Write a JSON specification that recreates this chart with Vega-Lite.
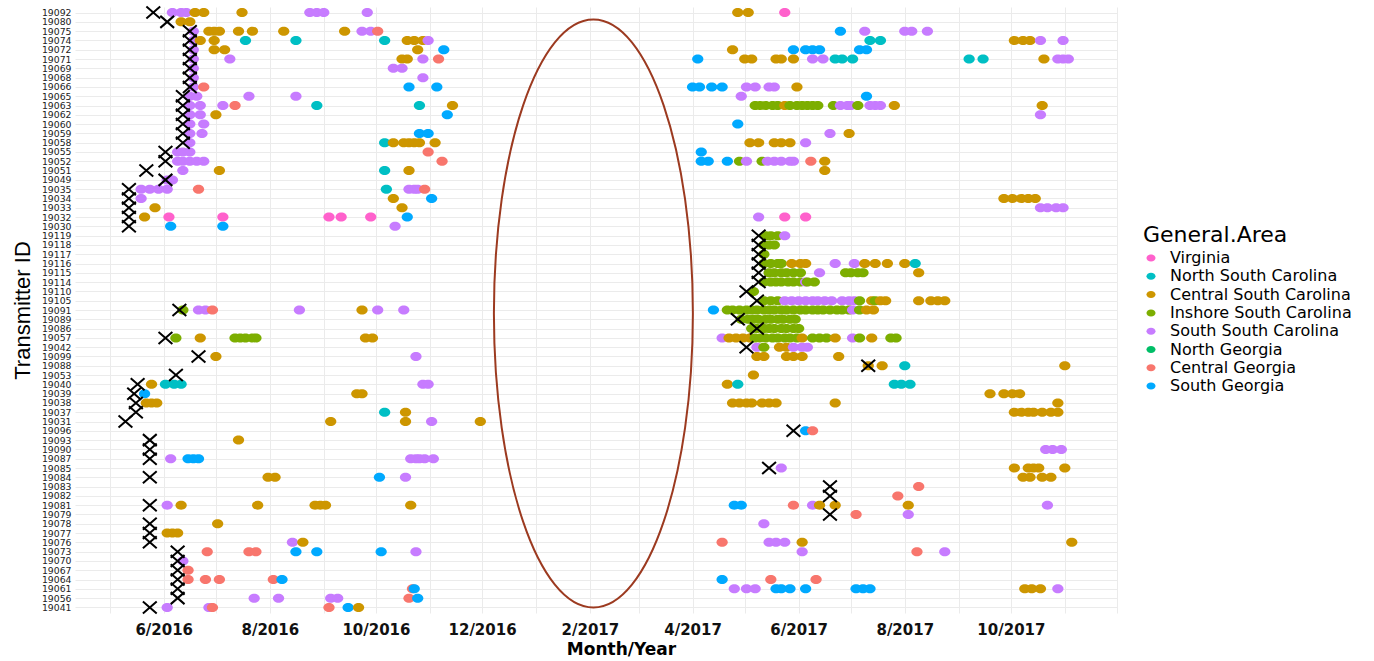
{
"$schema": "https://vega.github.io/schema/vega-lite/v6.json",
"autosize": {"type": "none"},
"width": 1042, "height": 606,
"padding": {"left": 75, "top": 7, "right": 257, "bottom": 48},
"background": "white",
"config": {"view": {"stroke": null}, "font": "DejaVu Sans"},
"datasets": {
"areas": [
{"code":"V","area":"Virginia"},{"code":"NSC","area":"North South Carolina"},{"code":"CSC","area":"Central South Carolina"},{"code":"ISC","area":"Inshore South Carolina"},{"code":"SSC","area":"South South Carolina"},{"code":"NG","area":"North Georgia"},{"code":"CG","area":"Central Georgia"},{"code":"SG","area":"South Georgia"}
],
"note": [{"id":"19091","date":"2017-02-03"}],
"tags": [
{"id":"19092","date":"2016-05-26"},{"id":"19080","date":"2016-06-03"},{"id":"19075","date":"2016-06-16"},{"id":"19074","date":"2016-06-16"},{"id":"19072","date":"2016-06-16"},{"id":"19071","date":"2016-06-16"},{"id":"19069","date":"2016-06-16"},{"id":"19068","date":"2016-06-16"},{"id":"19066","date":"2016-06-16"},{"id":"19065","date":"2016-06-12"},{"id":"19063","date":"2016-06-12"},{"id":"19062","date":"2016-06-12"},{"id":"19060","date":"2016-06-12"},{"id":"19059","date":"2016-06-12"},{"id":"19058","date":"2016-06-12"},{"id":"19055","date":"2016-06-02"},{"id":"19052","date":"2016-06-02"},{"id":"19051","date":"2016-05-22"},{"id":"19049","date":"2016-06-02"},{"id":"19035","date":"2016-05-12"},{"id":"19034","date":"2016-05-12"},{"id":"19033","date":"2016-05-12"},{"id":"19032","date":"2016-05-12"},{"id":"19030","date":"2016-05-12"},
{"id":"19119","date":"2017-05-09"},{"id":"19118","date":"2017-05-09"},{"id":"19117","date":"2017-05-09"},{"id":"19116","date":"2017-05-09"},{"id":"19115","date":"2017-05-09"},{"id":"19114","date":"2017-05-09"},{"id":"19110","date":"2017-05-02"},{"id":"19105","date":"2017-05-08"},{"id":"19091","date":"2016-06-10"},{"id":"19089","date":"2017-04-27"},{"id":"19086","date":"2017-05-08"},{"id":"19057","date":"2016-06-02"},{"id":"19042","date":"2017-05-02"},{"id":"19099","date":"2016-06-21"},{"id":"19088","date":"2017-07-11"},{"id":"19053","date":"2016-06-08"},{"id":"19040","date":"2016-05-17"},{"id":"19039","date":"2016-05-15"},{"id":"19038","date":"2016-05-16"},{"id":"19037","date":"2016-05-16"},{"id":"19031","date":"2016-05-10"},{"id":"19096","date":"2017-05-29"},{"id":"19093","date":"2016-05-24"},{"id":"19090","date":"2016-05-24"},{"id":"19087","date":"2016-05-24"},{"id":"19085","date":"2017-05-15"},{"id":"19084","date":"2016-05-24"},{"id":"19083","date":"2017-06-19"},{"id":"19082","date":"2017-06-19"},{"id":"19081","date":"2016-05-24"},{"id":"19079","date":"2017-06-19"},{"id":"19078","date":"2016-05-24"},{"id":"19077","date":"2016-05-24"},{"id":"19076","date":"2016-05-24"},{"id":"19073","date":"2016-06-09"},{"id":"19070","date":"2016-06-09"},{"id":"19067","date":"2016-06-09"},{"id":"19064","date":"2016-06-09"},{"id":"19061","date":"2016-06-09"},{"id":"19056","date":"2016-06-09"},{"id":"19041","date":"2016-05-24"}
],
"det": [
{"id":"19092","date":"2016-06-06","code":"SSC"},{"id":"19092","date":"2016-06-11","code":"SSC"},{"id":"19092","date":"2016-06-14","code":"SSC"},{"id":"19092","date":"2016-06-19","code":"CSC"},{"id":"19092","date":"2016-06-24","code":"CSC"},{"id":"19092","date":"2016-07-16","code":"CSC"},{"id":"19092","date":"2016-08-24","code":"SSC"},{"id":"19092","date":"2016-08-28","code":"SSC"},{"id":"19092","date":"2016-09-01","code":"SSC"},{"id":"19092","date":"2016-09-26","code":"SSC"},{"id":"19092","date":"2017-04-27","code":"CSC"},{"id":"19092","date":"2017-05-03","code":"CSC"},{"id":"19092","date":"2017-05-24","code":"V"},
{"id":"19080","date":"2016-06-11","code":"CSC"},{"id":"19080","date":"2016-06-16","code":"CSC"},
{"id":"19075","date":"2016-06-18","code":"SSC"},{"id":"19075","date":"2016-06-27","code":"CSC"},{"id":"19075","date":"2016-06-30","code":"CSC"},{"id":"19075","date":"2016-07-03","code":"CSC"},{"id":"19075","date":"2016-07-14","code":"CSC"},{"id":"19075","date":"2016-07-22","code":"CSC"},{"id":"19075","date":"2016-08-09","code":"CSC"},{"id":"19075","date":"2016-09-13","code":"CSC"},{"id":"19075","date":"2016-09-23","code":"SSC"},{"id":"19075","date":"2016-09-28","code":"SSC"},{"id":"19075","date":"2016-10-02","code":"CG"},{"id":"19075","date":"2017-06-25","code":"SG"},{"id":"19075","date":"2017-07-09","code":"SSC"},{"id":"19075","date":"2017-08-01","code":"SSC"},{"id":"19075","date":"2017-08-05","code":"SSC"},{"id":"19075","date":"2017-08-14","code":"SSC"},
{"id":"19074","date":"2016-06-18","code":"SSC"},{"id":"19074","date":"2016-06-22","code":"CSC"},{"id":"19074","date":"2016-06-30","code":"CSC"},{"id":"19074","date":"2016-07-18","code":"NSC"},{"id":"19074","date":"2016-08-16","code":"NSC"},{"id":"19074","date":"2016-10-06","code":"NSC"},{"id":"19074","date":"2016-10-19","code":"CSC"},{"id":"19074","date":"2016-10-23","code":"CSC"},{"id":"19074","date":"2016-10-28","code":"CSC"},{"id":"19074","date":"2016-10-31","code":"SSC"},{"id":"19074","date":"2017-07-12","code":"NSC"},{"id":"19074","date":"2017-07-18","code":"NSC"},{"id":"19074","date":"2017-10-03","code":"CSC"},{"id":"19074","date":"2017-10-08","code":"CSC"},{"id":"19074","date":"2017-10-12","code":"CSC"},{"id":"19074","date":"2017-10-18","code":"SSC"},{"id":"19074","date":"2017-10-31","code":"SSC"},
{"id":"19072","date":"2016-06-18","code":"SSC"},{"id":"19072","date":"2016-06-30","code":"CSC"},{"id":"19072","date":"2016-07-06","code":"CSC"},{"id":"19072","date":"2016-10-25","code":"CSC"},{"id":"19072","date":"2016-11-09","code":"SG"},{"id":"19072","date":"2017-04-24","code":"CSC"},{"id":"19072","date":"2017-05-29","code":"SG"},{"id":"19072","date":"2017-06-05","code":"SG"},{"id":"19072","date":"2017-06-09","code":"SG"},{"id":"19072","date":"2017-06-13","code":"SG"},{"id":"19072","date":"2017-07-06","code":"SG"},{"id":"19072","date":"2017-07-10","code":"SG"},
{"id":"19071","date":"2016-06-18","code":"SSC"},{"id":"19071","date":"2016-07-09","code":"SSC"},{"id":"19071","date":"2016-10-16","code":"CSC"},{"id":"19071","date":"2016-10-19","code":"CSC"},{"id":"19071","date":"2016-10-28","code":"SSC"},{"id":"19071","date":"2016-11-06","code":"CG"},{"id":"19071","date":"2017-04-04","code":"SG"},{"id":"19071","date":"2017-05-01","code":"CSC"},{"id":"19071","date":"2017-05-05","code":"CSC"},{"id":"19071","date":"2017-05-19","code":"CSC"},{"id":"19071","date":"2017-05-22","code":"CSC"},{"id":"19071","date":"2017-05-29","code":"CSC"},{"id":"19071","date":"2017-06-09","code":"SSC"},{"id":"19071","date":"2017-06-15","code":"SSC"},{"id":"19071","date":"2017-06-22","code":"NSC"},{"id":"19071","date":"2017-06-26","code":"NSC"},{"id":"19071","date":"2017-07-02","code":"NSC"},{"id":"19071","date":"2017-09-07","code":"NSC"},{"id":"19071","date":"2017-09-15","code":"NSC"},{"id":"19071","date":"2017-10-20","code":"CSC"},{"id":"19071","date":"2017-10-28","code":"SSC"},{"id":"19071","date":"2017-10-31","code":"SSC"},{"id":"19071","date":"2017-11-03","code":"SSC"},
{"id":"19069","date":"2016-06-18","code":"SSC"},{"id":"19069","date":"2016-10-11","code":"SSC"},{"id":"19069","date":"2016-10-16","code":"SSC"},
{"id":"19068","date":"2016-06-18","code":"SSC"},{"id":"19068","date":"2016-10-28","code":"SSC"},
{"id":"19066","date":"2016-06-18","code":"SSC"},{"id":"19066","date":"2016-06-24","code":"CG"},{"id":"19066","date":"2016-10-20","code":"SG"},{"id":"19066","date":"2016-11-05","code":"SG"},{"id":"19066","date":"2017-04-01","code":"SG"},{"id":"19066","date":"2017-04-05","code":"SG"},{"id":"19066","date":"2017-04-12","code":"SG"},{"id":"19066","date":"2017-04-18","code":"SG"},{"id":"19066","date":"2017-05-02","code":"SSC"},{"id":"19066","date":"2017-05-07","code":"SSC"},{"id":"19066","date":"2017-05-15","code":"SSC"},{"id":"19066","date":"2017-05-18","code":"SSC"},{"id":"19066","date":"2017-05-31","code":"CSC"},
{"id":"19065","date":"2016-06-16","code":"SSC"},{"id":"19065","date":"2016-06-20","code":"SSC"},{"id":"19065","date":"2016-07-20","code":"SSC"},{"id":"19065","date":"2016-08-16","code":"SSC"},{"id":"19065","date":"2017-04-29","code":"SSC"},{"id":"19065","date":"2017-07-10","code":"SG"},
{"id":"19063","date":"2016-06-16","code":"SSC"},{"id":"19063","date":"2016-06-22","code":"SSC"},{"id":"19063","date":"2016-07-05","code":"SSC"},{"id":"19063","date":"2016-07-12","code":"CG"},{"id":"19063","date":"2016-08-28","code":"NSC"},{"id":"19063","date":"2016-10-26","code":"NSC"},{"id":"19063","date":"2016-11-14","code":"CSC"},{"id":"19063","date":"2017-05-07","code":"ISC"},{"id":"19063","date":"2017-05-10","code":"ISC"},{"id":"19063","date":"2017-05-13","code":"ISC"},{"id":"19063","date":"2017-05-17","code":"ISC"},{"id":"19063","date":"2017-05-20","code":"ISC"},{"id":"19063","date":"2017-05-24","code":"CSC"},{"id":"19063","date":"2017-05-27","code":"ISC"},{"id":"19063","date":"2017-05-31","code":"ISC"},{"id":"19063","date":"2017-06-03","code":"ISC"},{"id":"19063","date":"2017-06-06","code":"ISC"},{"id":"19063","date":"2017-06-09","code":"ISC"},{"id":"19063","date":"2017-06-12","code":"ISC"},{"id":"19063","date":"2017-06-21","code":"ISC"},{"id":"19063","date":"2017-06-25","code":"SSC"},{"id":"19063","date":"2017-06-29","code":"SSC"},{"id":"19063","date":"2017-07-01","code":"SSC"},{"id":"19063","date":"2017-07-05","code":"ISC"},{"id":"19063","date":"2017-07-12","code":"SSC"},{"id":"19063","date":"2017-07-15","code":"SSC"},{"id":"19063","date":"2017-07-18","code":"SSC"},{"id":"19063","date":"2017-07-26","code":"CSC"},{"id":"19063","date":"2017-10-19","code":"CSC"},
{"id":"19062","date":"2016-06-16","code":"SSC"},{"id":"19062","date":"2016-06-22","code":"SSC"},{"id":"19062","date":"2016-07-01","code":"CSC"},{"id":"19062","date":"2016-11-11","code":"SG"},{"id":"19062","date":"2017-10-18","code":"SSC"},
{"id":"19060","date":"2016-06-16","code":"SSC"},{"id":"19060","date":"2016-06-24","code":"SSC"},{"id":"19060","date":"2017-04-27","code":"SG"},
{"id":"19059","date":"2016-06-16","code":"SSC"},{"id":"19059","date":"2016-06-23","code":"SSC"},{"id":"19059","date":"2016-10-26","code":"SG"},{"id":"19059","date":"2016-10-31","code":"SG"},{"id":"19059","date":"2017-06-19","code":"SSC"},{"id":"19059","date":"2017-06-30","code":"CSC"},
{"id":"19058","date":"2016-06-16","code":"SSC"},{"id":"19058","date":"2016-10-06","code":"NSC"},{"id":"19058","date":"2016-10-11","code":"CSC"},{"id":"19058","date":"2016-10-17","code":"CSC"},{"id":"19058","date":"2016-10-20","code":"CSC"},{"id":"19058","date":"2016-10-23","code":"CSC"},{"id":"19058","date":"2016-10-26","code":"CSC"},{"id":"19058","date":"2016-11-04","code":"CSC"},{"id":"19058","date":"2017-05-04","code":"CSC"},{"id":"19058","date":"2017-05-09","code":"CSC"},{"id":"19058","date":"2017-05-18","code":"CSC"},{"id":"19058","date":"2017-05-22","code":"CSC"},{"id":"19058","date":"2017-05-27","code":"CSC"},{"id":"19058","date":"2017-06-05","code":"SSC"},
{"id":"19055","date":"2016-06-09","code":"SSC"},{"id":"19055","date":"2016-06-12","code":"SSC"},{"id":"19055","date":"2016-06-16","code":"SSC"},{"id":"19055","date":"2016-10-31","code":"CG"},{"id":"19055","date":"2017-04-06","code":"SG"},
{"id":"19052","date":"2016-06-09","code":"SSC"},{"id":"19052","date":"2016-06-12","code":"SSC"},{"id":"19052","date":"2016-06-16","code":"SSC"},{"id":"19052","date":"2016-06-20","code":"SSC"},{"id":"19052","date":"2016-06-24","code":"SSC"},{"id":"19052","date":"2016-11-08","code":"CG"},{"id":"19052","date":"2017-04-06","code":"SG"},{"id":"19052","date":"2017-04-10","code":"SG"},{"id":"19052","date":"2017-04-21","code":"SG"},{"id":"19052","date":"2017-04-28","code":"ISC"},{"id":"19052","date":"2017-05-02","code":"SSC"},{"id":"19052","date":"2017-05-11","code":"ISC"},{"id":"19052","date":"2017-05-14","code":"SSC"},{"id":"19052","date":"2017-05-18","code":"SSC"},{"id":"19052","date":"2017-05-22","code":"SSC"},{"id":"19052","date":"2017-05-27","code":"SSC"},{"id":"19052","date":"2017-05-29","code":"SSC"},{"id":"19052","date":"2017-06-08","code":"CG"},{"id":"19052","date":"2017-06-16","code":"CSC"},
{"id":"19051","date":"2016-06-12","code":"SSC"},{"id":"19051","date":"2016-07-03","code":"CSC"},{"id":"19051","date":"2016-10-06","code":"NSC"},{"id":"19051","date":"2016-10-20","code":"CSC"},{"id":"19051","date":"2017-06-16","code":"CSC"},
{"id":"19049","date":"2016-06-03","code":"SSC"},{"id":"19049","date":"2016-06-06","code":"SSC"},
{"id":"19035","date":"2016-05-19","code":"SSC"},{"id":"19035","date":"2016-05-24","code":"SSC"},{"id":"19035","date":"2016-05-29","code":"SSC"},{"id":"19035","date":"2016-06-03","code":"SSC"},{"id":"19035","date":"2016-06-21","code":"CG"},{"id":"19035","date":"2016-10-07","code":"NSC"},{"id":"19035","date":"2016-10-20","code":"SSC"},{"id":"19035","date":"2016-10-23","code":"SSC"},{"id":"19035","date":"2016-10-25","code":"SSC"},{"id":"19035","date":"2016-10-29","code":"CG"},
{"id":"19034","date":"2016-05-19","code":"SSC"},{"id":"19034","date":"2016-10-11","code":"CSC"},{"id":"19034","date":"2016-11-02","code":"SG"},{"id":"19034","date":"2017-09-27","code":"CSC"},{"id":"19034","date":"2017-10-02","code":"CSC"},{"id":"19034","date":"2017-10-07","code":"CSC"},{"id":"19034","date":"2017-10-11","code":"CSC"},{"id":"19034","date":"2017-10-15","code":"CSC"},
{"id":"19033","date":"2016-05-27","code":"CSC"},{"id":"19033","date":"2016-10-16","code":"CSC"},{"id":"19033","date":"2017-10-18","code":"SSC"},{"id":"19033","date":"2017-10-22","code":"SSC"},{"id":"19033","date":"2017-10-27","code":"SSC"},{"id":"19033","date":"2017-10-31","code":"SSC"},
{"id":"19032","date":"2016-05-21","code":"CSC"},{"id":"19032","date":"2016-06-04","code":"V"},{"id":"19032","date":"2016-07-05","code":"V"},{"id":"19032","date":"2016-09-04","code":"V"},{"id":"19032","date":"2016-09-11","code":"V"},{"id":"19032","date":"2016-09-28","code":"V"},{"id":"19032","date":"2016-10-19","code":"SG"},{"id":"19032","date":"2017-05-09","code":"SSC"},{"id":"19032","date":"2017-05-24","code":"V"},{"id":"19032","date":"2017-06-05","code":"V"},
{"id":"19030","date":"2016-06-05","code":"SG"},{"id":"19030","date":"2016-07-05","code":"SG"},{"id":"19030","date":"2016-10-12","code":"SSC"},
{"id":"19119","date":"2017-05-13","code":"ISC"},{"id":"19119","date":"2017-05-16","code":"ISC"},{"id":"19119","date":"2017-05-20","code":"ISC"},{"id":"19119","date":"2017-05-24","code":"SSC"},
{"id":"19118","date":"2017-05-12","code":"ISC"},{"id":"19118","date":"2017-05-15","code":"ISC"},{"id":"19118","date":"2017-05-18","code":"ISC"},
{"id":"19117","date":"2017-05-12","code":"ISC"},
{"id":"19116","date":"2017-05-12","code":"ISC"},{"id":"19116","date":"2017-05-16","code":"ISC"},{"id":"19116","date":"2017-05-20","code":"ISC"},{"id":"19116","date":"2017-05-22","code":"ISC"},{"id":"19116","date":"2017-05-28","code":"CSC"},{"id":"19116","date":"2017-06-02","code":"CSC"},{"id":"19116","date":"2017-06-05","code":"CSC"},{"id":"19116","date":"2017-06-22","code":"SSC"},{"id":"19116","date":"2017-07-03","code":"SSC"},{"id":"19116","date":"2017-07-09","code":"CSC"},{"id":"19116","date":"2017-07-15","code":"CSC"},{"id":"19116","date":"2017-07-22","code":"CSC"},{"id":"19116","date":"2017-08-01","code":"CSC"},{"id":"19116","date":"2017-08-07","code":"NSC"},
{"id":"19115","date":"2017-05-15","code":"ISC"},{"id":"19115","date":"2017-05-18","code":"ISC"},{"id":"19115","date":"2017-05-22","code":"ISC"},{"id":"19115","date":"2017-05-25","code":"ISC"},{"id":"19115","date":"2017-05-29","code":"ISC"},{"id":"19115","date":"2017-06-02","code":"ISC"},{"id":"19115","date":"2017-06-13","code":"SSC"},{"id":"19115","date":"2017-06-28","code":"ISC"},{"id":"19115","date":"2017-07-01","code":"ISC"},{"id":"19115","date":"2017-07-05","code":"ISC"},{"id":"19115","date":"2017-07-08","code":"ISC"},{"id":"19115","date":"2017-08-09","code":"CSC"},
{"id":"19114","date":"2017-05-12","code":"ISC"},{"id":"19114","date":"2017-05-16","code":"ISC"},{"id":"19114","date":"2017-05-19","code":"ISC"},{"id":"19114","date":"2017-05-22","code":"ISC"},{"id":"19114","date":"2017-05-26","code":"ISC"},{"id":"19114","date":"2017-05-29","code":"ISC"},{"id":"19114","date":"2017-06-02","code":"ISC"},{"id":"19114","date":"2017-06-05","code":"SSC"},{"id":"19114","date":"2017-06-06","code":"ISC"},{"id":"19114","date":"2017-06-10","code":"ISC"},
{"id":"19110","date":"2017-05-06","code":"ISC"},
{"id":"19105","date":"2017-05-12","code":"ISC"},{"id":"19105","date":"2017-05-16","code":"ISC"},{"id":"19105","date":"2017-05-20","code":"ISC"},{"id":"19105","date":"2017-05-24","code":"SSC"},{"id":"19105","date":"2017-05-28","code":"SSC"},{"id":"19105","date":"2017-06-01","code":"SSC"},{"id":"19105","date":"2017-06-05","code":"SSC"},{"id":"19105","date":"2017-06-09","code":"SSC"},{"id":"19105","date":"2017-06-12","code":"SSC"},{"id":"19105","date":"2017-06-16","code":"SSC"},{"id":"19105","date":"2017-06-20","code":"SSC"},{"id":"19105","date":"2017-06-26","code":"SSC"},{"id":"19105","date":"2017-06-30","code":"SSC"},{"id":"19105","date":"2017-07-03","code":"SSC"},{"id":"19105","date":"2017-07-06","code":"ISC"},{"id":"19105","date":"2017-07-13","code":"CSC"},{"id":"19105","date":"2017-07-15","code":"ISC"},{"id":"19105","date":"2017-07-18","code":"CSC"},{"id":"19105","date":"2017-07-21","code":"CSC"},{"id":"19105","date":"2017-08-09","code":"CSC"},{"id":"19105","date":"2017-08-16","code":"CSC"},{"id":"19105","date":"2017-08-20","code":"CSC"},{"id":"19105","date":"2017-08-24","code":"CSC"},
{"id":"19091","date":"2016-06-12","code":"ISC"},{"id":"19091","date":"2016-06-21","code":"SSC"},{"id":"19091","date":"2016-06-25","code":"SSC"},{"id":"19091","date":"2016-06-29","code":"CG"},{"id":"19091","date":"2016-08-18","code":"SSC"},{"id":"19091","date":"2016-09-23","code":"CSC"},{"id":"19091","date":"2016-10-02","code":"SSC"},{"id":"19091","date":"2016-10-17","code":"SSC"},{"id":"19091","date":"2017-04-13","code":"SG"},{"id":"19091","date":"2017-04-21","code":"ISC"},{"id":"19091","date":"2017-04-24","code":"ISC"},{"id":"19091","date":"2017-04-28","code":"ISC"},{"id":"19091","date":"2017-05-02","code":"ISC"},{"id":"19091","date":"2017-05-05","code":"ISC"},{"id":"19091","date":"2017-05-08","code":"ISC"},{"id":"19091","date":"2017-05-12","code":"ISC"},{"id":"19091","date":"2017-05-15","code":"ISC"},{"id":"19091","date":"2017-05-18","code":"ISC"},{"id":"19091","date":"2017-05-22","code":"ISC"},{"id":"19091","date":"2017-05-25","code":"ISC"},{"id":"19091","date":"2017-05-29","code":"ISC"},{"id":"19091","date":"2017-06-02","code":"ISC"},{"id":"19091","date":"2017-06-05","code":"ISC"},{"id":"19091","date":"2017-06-09","code":"ISC"},{"id":"19091","date":"2017-06-12","code":"ISC"},{"id":"19091","date":"2017-06-15","code":"ISC"},{"id":"19091","date":"2017-06-19","code":"ISC"},{"id":"19091","date":"2017-06-23","code":"ISC"},{"id":"19091","date":"2017-06-26","code":"ISC"},{"id":"19091","date":"2017-06-30","code":"ISC"},{"id":"19091","date":"2017-07-02","code":"SSC"},{"id":"19091","date":"2017-07-06","code":"ISC"},{"id":"19091","date":"2017-07-10","code":"CSC"},{"id":"19091","date":"2017-07-14","code":"CSC"},
{"id":"19089","date":"2017-04-29","code":"ISC"},{"id":"19089","date":"2017-05-03","code":"ISC"},{"id":"19089","date":"2017-05-06","code":"ISC"},{"id":"19089","date":"2017-05-09","code":"ISC"},{"id":"19089","date":"2017-05-13","code":"ISC"},{"id":"19089","date":"2017-05-16","code":"ISC"},{"id":"19089","date":"2017-05-20","code":"ISC"},{"id":"19089","date":"2017-05-23","code":"ISC"},{"id":"19089","date":"2017-05-27","code":"ISC"},{"id":"19089","date":"2017-05-30","code":"ISC"},
{"id":"19086","date":"2017-05-05","code":"ISC"},{"id":"19086","date":"2017-05-08","code":"ISC"},{"id":"19086","date":"2017-05-12","code":"ISC"},{"id":"19086","date":"2017-05-15","code":"ISC"},{"id":"19086","date":"2017-05-18","code":"ISC"},{"id":"19086","date":"2017-05-22","code":"ISC"},{"id":"19086","date":"2017-05-25","code":"ISC"},{"id":"19086","date":"2017-05-29","code":"ISC"},{"id":"19086","date":"2017-06-01","code":"ISC"},
{"id":"19057","date":"2016-06-08","code":"ISC"},{"id":"19057","date":"2016-06-22","code":"CSC"},{"id":"19057","date":"2016-07-12","code":"ISC"},{"id":"19057","date":"2016-07-15","code":"ISC"},{"id":"19057","date":"2016-07-18","code":"ISC"},{"id":"19057","date":"2016-07-22","code":"ISC"},{"id":"19057","date":"2016-07-24","code":"ISC"},{"id":"19057","date":"2016-09-25","code":"CSC"},{"id":"19057","date":"2016-09-29","code":"CSC"},{"id":"19057","date":"2017-04-18","code":"SSC"},{"id":"19057","date":"2017-04-22","code":"CSC"},{"id":"19057","date":"2017-04-26","code":"CSC"},{"id":"19057","date":"2017-04-30","code":"CSC"},{"id":"19057","date":"2017-05-04","code":"CSC"},{"id":"19057","date":"2017-05-07","code":"ISC"},{"id":"19057","date":"2017-05-10","code":"ISC"},{"id":"19057","date":"2017-05-13","code":"ISC"},{"id":"19057","date":"2017-05-17","code":"ISC"},{"id":"19057","date":"2017-05-20","code":"ISC"},{"id":"19057","date":"2017-05-24","code":"ISC"},{"id":"19057","date":"2017-05-27","code":"ISC"},{"id":"19057","date":"2017-05-31","code":"ISC"},{"id":"19057","date":"2017-06-03","code":"CSC"},{"id":"19057","date":"2017-06-09","code":"ISC"},{"id":"19057","date":"2017-06-13","code":"ISC"},{"id":"19057","date":"2017-06-17","code":"ISC"},{"id":"19057","date":"2017-06-22","code":"CSC"},{"id":"19057","date":"2017-07-02","code":"SSC"},{"id":"19057","date":"2017-07-06","code":"ISC"},{"id":"19057","date":"2017-07-13","code":"CSC"},{"id":"19057","date":"2017-07-24","code":"ISC"},{"id":"19057","date":"2017-07-27","code":"ISC"},
{"id":"19042","date":"2017-05-08","code":"SSC"},{"id":"19042","date":"2017-05-12","code":"ISC"},{"id":"19042","date":"2017-05-21","code":"CSC"},{"id":"19042","date":"2017-05-25","code":"CSC"},{"id":"19042","date":"2017-05-29","code":"SSC"},{"id":"19042","date":"2017-06-03","code":"SSC"},{"id":"19042","date":"2017-06-06","code":"SSC"},
{"id":"19099","date":"2016-07-01","code":"CSC"},{"id":"19099","date":"2016-10-24","code":"SSC"},{"id":"19099","date":"2017-05-08","code":"CSC"},{"id":"19099","date":"2017-05-12","code":"CSC"},{"id":"19099","date":"2017-05-25","code":"CSC"},{"id":"19099","date":"2017-05-29","code":"CSC"},{"id":"19099","date":"2017-06-03","code":"CSC"},{"id":"19099","date":"2017-06-24","code":"CSC"},
{"id":"19088","date":"2017-07-11","code":"CSC"},{"id":"19088","date":"2017-07-19","code":"CSC"},{"id":"19088","date":"2017-08-01","code":"NSC"},{"id":"19088","date":"2017-11-01","code":"CSC"},
{"id":"19053","date":"2017-05-06","code":"CSC"},
{"id":"19040","date":"2016-05-25","code":"CSC"},{"id":"19040","date":"2016-06-02","code":"NSC"},{"id":"19040","date":"2016-06-07","code":"NSC"},{"id":"19040","date":"2016-06-11","code":"NSC"},{"id":"19040","date":"2016-10-28","code":"SSC"},{"id":"19040","date":"2016-10-31","code":"SSC"},{"id":"19040","date":"2017-04-21","code":"CSC"},{"id":"19040","date":"2017-04-27","code":"NSC"},{"id":"19040","date":"2017-07-26","code":"NSC"},{"id":"19040","date":"2017-07-30","code":"NSC"},{"id":"19040","date":"2017-08-04","code":"NSC"},
{"id":"19039","date":"2016-05-21","code":"SG"},{"id":"19039","date":"2016-09-20","code":"CSC"},{"id":"19039","date":"2016-09-23","code":"CSC"},{"id":"19039","date":"2017-09-19","code":"CSC"},{"id":"19039","date":"2017-09-27","code":"CSC"},{"id":"19039","date":"2017-10-02","code":"CSC"},{"id":"19039","date":"2017-10-06","code":"CSC"},
{"id":"19038","date":"2016-05-22","code":"CSC"},{"id":"19038","date":"2016-05-25","code":"CSC"},{"id":"19038","date":"2016-05-28","code":"CSC"},{"id":"19038","date":"2017-04-24","code":"CSC"},{"id":"19038","date":"2017-04-28","code":"CSC"},{"id":"19038","date":"2017-05-02","code":"CSC"},{"id":"19038","date":"2017-05-05","code":"CSC"},{"id":"19038","date":"2017-05-11","code":"CSC"},{"id":"19038","date":"2017-05-15","code":"CSC"},{"id":"19038","date":"2017-05-19","code":"CSC"},{"id":"19038","date":"2017-06-22","code":"CSC"},{"id":"19038","date":"2017-10-28","code":"CSC"},
{"id":"19037","date":"2016-10-06","code":"NSC"},{"id":"19037","date":"2016-10-18","code":"CSC"},{"id":"19037","date":"2017-10-03","code":"CSC"},{"id":"19037","date":"2017-10-07","code":"CSC"},{"id":"19037","date":"2017-10-11","code":"CSC"},{"id":"19037","date":"2017-10-14","code":"CSC"},{"id":"19037","date":"2017-10-19","code":"CSC"},{"id":"19037","date":"2017-10-24","code":"CSC"},{"id":"19037","date":"2017-10-28","code":"CSC"},
{"id":"19031","date":"2016-09-05","code":"CSC"},{"id":"19031","date":"2016-10-18","code":"CSC"},{"id":"19031","date":"2016-11-02","code":"SSC"},{"id":"19031","date":"2016-11-30","code":"CSC"},
{"id":"19096","date":"2017-06-05","code":"SG"},{"id":"19096","date":"2017-06-09","code":"CG"},
{"id":"19093","date":"2016-07-14","code":"CSC"},
{"id":"19090","date":"2017-10-21","code":"SSC"},{"id":"19090","date":"2017-10-25","code":"SSC"},{"id":"19090","date":"2017-10-30","code":"SSC"},
{"id":"19087","date":"2016-06-05","code":"SSC"},{"id":"19087","date":"2016-06-15","code":"SG"},{"id":"19087","date":"2016-06-18","code":"SG"},{"id":"19087","date":"2016-06-21","code":"SG"},{"id":"19087","date":"2016-10-21","code":"SSC"},{"id":"19087","date":"2016-10-24","code":"SSC"},{"id":"19087","date":"2016-10-26","code":"SSC"},{"id":"19087","date":"2016-10-29","code":"SSC"},{"id":"19087","date":"2016-11-03","code":"SSC"},
{"id":"19085","date":"2017-05-22","code":"SSC"},{"id":"19085","date":"2017-10-03","code":"CSC"},{"id":"19085","date":"2017-10-11","code":"CSC"},{"id":"19085","date":"2017-10-14","code":"CSC"},{"id":"19085","date":"2017-10-17","code":"CSC"},{"id":"19085","date":"2017-11-01","code":"CSC"},
{"id":"19084","date":"2016-07-31","code":"CSC"},{"id":"19084","date":"2016-08-04","code":"CSC"},{"id":"19084","date":"2016-10-03","code":"SG"},{"id":"19084","date":"2016-10-18","code":"SSC"},{"id":"19084","date":"2017-10-08","code":"CSC"},{"id":"19084","date":"2017-10-12","code":"CSC"},{"id":"19084","date":"2017-10-19","code":"CSC"},{"id":"19084","date":"2017-10-24","code":"CSC"},
{"id":"19083","date":"2017-08-09","code":"CG"},
{"id":"19082","date":"2017-07-28","code":"CG"},
{"id":"19081","date":"2016-06-03","code":"SSC"},{"id":"19081","date":"2016-06-11","code":"CSC"},{"id":"19081","date":"2016-07-25","code":"CSC"},{"id":"19081","date":"2016-08-27","code":"CSC"},{"id":"19081","date":"2016-08-30","code":"CSC"},{"id":"19081","date":"2016-09-02","code":"CSC"},{"id":"19081","date":"2016-10-21","code":"CSC"},{"id":"19081","date":"2017-04-25","code":"SG"},{"id":"19081","date":"2017-04-29","code":"SG"},{"id":"19081","date":"2017-05-29","code":"CG"},{"id":"19081","date":"2017-06-09","code":"SSC"},{"id":"19081","date":"2017-06-13","code":"CSC"},{"id":"19081","date":"2017-06-22","code":"CSC"},{"id":"19081","date":"2017-08-03","code":"CSC"},{"id":"19081","date":"2017-10-22","code":"SSC"},
{"id":"19079","date":"2017-07-04","code":"CG"},{"id":"19079","date":"2017-08-03","code":"SSC"},
{"id":"19078","date":"2016-07-02","code":"CSC"},{"id":"19078","date":"2017-05-12","code":"SSC"},
{"id":"19077","date":"2016-06-03","code":"CSC"},{"id":"19077","date":"2016-06-06","code":"CSC"},{"id":"19077","date":"2016-06-09","code":"CSC"},
{"id":"19076","date":"2016-08-14","code":"SSC"},{"id":"19076","date":"2016-08-20","code":"CSC"},{"id":"19076","date":"2017-04-18","code":"CG"},{"id":"19076","date":"2017-05-15","code":"SSC"},{"id":"19076","date":"2017-05-19","code":"SSC"},{"id":"19076","date":"2017-05-24","code":"SSC"},{"id":"19076","date":"2017-06-03","code":"CSC"},{"id":"19076","date":"2017-11-05","code":"CSC"},
{"id":"19073","date":"2016-06-26","code":"CG"},{"id":"19073","date":"2016-07-20","code":"CG"},{"id":"19073","date":"2016-07-24","code":"CG"},{"id":"19073","date":"2016-08-16","code":"SG"},{"id":"19073","date":"2016-08-28","code":"SG"},{"id":"19073","date":"2016-10-04","code":"SG"},{"id":"19073","date":"2016-10-24","code":"SSC"},{"id":"19073","date":"2017-06-03","code":"SSC"},{"id":"19073","date":"2017-08-08","code":"CG"},{"id":"19073","date":"2017-08-24","code":"SSC"},
{"id":"19070","date":"2016-06-12","code":"SSC"},
{"id":"19067","date":"2016-06-15","code":"CG"},
{"id":"19064","date":"2016-06-15","code":"CG"},{"id":"19064","date":"2016-06-25","code":"CG"},{"id":"19064","date":"2016-07-03","code":"CG"},{"id":"19064","date":"2016-08-03","code":"CG"},{"id":"19064","date":"2016-08-08","code":"SG"},{"id":"19064","date":"2017-04-18","code":"SG"},{"id":"19064","date":"2017-05-16","code":"CG"},{"id":"19064","date":"2017-06-11","code":"CG"},
{"id":"19061","date":"2016-10-22","code":"CG"},{"id":"19061","date":"2016-10-23","code":"SG"},{"id":"19061","date":"2017-04-25","code":"SSC"},{"id":"19061","date":"2017-05-02","code":"SSC"},{"id":"19061","date":"2017-05-07","code":"SSC"},{"id":"19061","date":"2017-05-19","code":"SG"},{"id":"19061","date":"2017-05-22","code":"SG"},{"id":"19061","date":"2017-05-27","code":"SG"},{"id":"19061","date":"2017-06-05","code":"SG"},{"id":"19061","date":"2017-07-04","code":"SG"},{"id":"19061","date":"2017-07-08","code":"SG"},{"id":"19061","date":"2017-07-12","code":"SG"},{"id":"19061","date":"2017-10-09","code":"CSC"},{"id":"19061","date":"2017-10-13","code":"CSC"},{"id":"19061","date":"2017-10-18","code":"CSC"},{"id":"19061","date":"2017-10-28","code":"SSC"},
{"id":"19056","date":"2016-07-23","code":"SSC"},{"id":"19056","date":"2016-08-06","code":"SSC"},{"id":"19056","date":"2016-09-05","code":"SSC"},{"id":"19056","date":"2016-09-09","code":"SSC"},{"id":"19056","date":"2016-10-20","code":"CG"},{"id":"19056","date":"2016-10-25","code":"SG"},
{"id":"19041","date":"2016-06-03","code":"SSC"},{"id":"19041","date":"2016-06-27","code":"SSC"},{"id":"19041","date":"2016-06-29","code":"CG"},{"id":"19041","date":"2016-09-04","code":"CG"},{"id":"19041","date":"2016-09-15","code":"SG"},{"id":"19041","date":"2016-09-21","code":"CSC"}
]
},
"encoding": {
"x": {"field": "date", "type": "temporal",
 "scale": {"type": "utc", "domain": [{"year": 2016, "month": 4, "date": 11, "utc": true}, {"year": 2017, "month": 12, "date": 1, "utc": true}]},
 "axis": {"title": "Month/Year", "titleFont": "DejaVu Sans", "titleFontWeight": "bold", "titleFontSize": 17, "titleColor": "#000", "titlePadding": 4, "titleX": 546, "titleAlign": "center",
  "labelFont": "DejaVu Sans", "labelFontWeight": "bold", "labelFontSize": 15, "labelColor": "#111", "labelPadding": 9, "labelOverlap": false, "labelFlush": false, "labelBound": false,
  "ticks": false, "domain": false, "grid": true, "gridColor": "#EBEBEB", "gridWidth": 1,
  "tickCount": {"interval": "month", "step": 1},
  "labelExpr": "(utcmonth(datum.value) % 2 == 1 && datum.value < utc(2017, 10, 15)) ? (utcmonth(datum.value) + 1) + '/' + utcyear(datum.value) : ''"}},
"y": {"field": "id", "type": "nominal",
 "scale": {"type": "point", "padding": 0.6, "domain": ["19092","19080","19075","19074","19072","19071","19069","19068","19066","19065","19063","19062","19060","19059","19058","19055","19052","19051","19049","19035","19034","19033","19032","19030","19119","19118","19117","19116","19115","19114","19110","19105","19091","19089","19086","19057","19042","19099","19088","19053","19040","19039","19038","19037","19031","19096","19093","19090","19087","19085","19084","19083","19082","19081","19079","19078","19077","19076","19073","19070","19067","19064","19061","19056","19041"]},
 "axis": {"title": "Transmitter ID", "titleFont": "Liberation Sans", "titleFontSize": 22, "titleFontWeight": "normal", "titleColor": "#000", "titlePadding": 7,
  "labelFont": "DejaVu Sans", "labelFontSize": 9.3, "labelColor": "#222", "labelPadding": 4, "labelOverlap": false,
  "ticks": false, "domain": false, "grid": true, "gridColor": "#EBEBEB"}}
},
"layer": [
{"data": {"name": "det"},
 "transform": [{"lookup": "code", "from": {"data": {"name": "areas"}, "key": "code", "fields": ["area"]}}],
 "mark": {"type": "point", "filled": true, "opacity": 1, "size": 81, "strokeWidth": 0,
  "shape": "M 0 -1 C 0.69 -1 1.25 -0.5523 1.25 0 C 1.25 0.5523 0.69 1 0 1 C -0.69 1 -1.25 0.5523 -1.25 0 C -1.25 -0.5523 -0.69 -1 0 -1 Z"},
 "encoding": {
  "color": {"field": "area", "type": "nominal",
   "scale": {"domain": ["Virginia","North South Carolina","Central South Carolina","Inshore South Carolina","South South Carolina","North Georgia","Central Georgia","South Georgia"],
    "range": ["#FF61CC","#00BFC4","#CD9600","#7CAE00","#C77CFF","#00BE67","#F8766D","#00A9FF"]},
   "legend": {"title": "General.Area", "orient": "none", "legendX": 1068, "legendY": 218, "padding": 0,
    "titleFont": "DejaVu Sans", "titleFontSize": 22, "titleFontWeight": "normal", "titleColor": "#000", "titlePadding": 3,
    "labelFont": "DejaVu Sans", "labelFontSize": 16, "labelColor": "#000", "labelOffset": 11, "labelLimit": 400,
    "symbolType": "M 0 -1 C 0.72 -1 1.3 -0.5523 1.3 0 C 1.3 0.5523 0.72 1 0 1 C -0.72 1 -1.3 0.5523 -1.3 0 C -1.3 -0.5523 -0.72 -1 0 -1 Z",
    "symbolSize": 49, "symbolStrokeWidth": 0, "symbolOpacity": 1, "rowPadding": 2.3}}
 }},
{"data": {"name": "tags"},
 "mark": {"type": "point", "filled": false, "stroke": "#000", "strokeWidth": 2, "size": 144, "opacity": 1,
  "shape": "M -1.15 -1 L 1.15 1 M -1.15 1 L 1.15 -1"}},
{"data": {"name": "note"},
 "mark": {"type": "point", "filled": false, "stroke": "#9C3A20", "strokeWidth": 2, "size": 345744, "opacity": 1,
  "shape": "M 0 -0.988 C 0.1869 -0.988 0.3384 -0.5403 0.3384 0.012 C 0.3384 0.5643 0.1869 1.012 0 1.012 C -0.1869 1.012 -0.3384 0.5643 -0.3384 0.012 C -0.3384 -0.5403 -0.1869 -0.988 0 -0.988 Z"}}
]
}
